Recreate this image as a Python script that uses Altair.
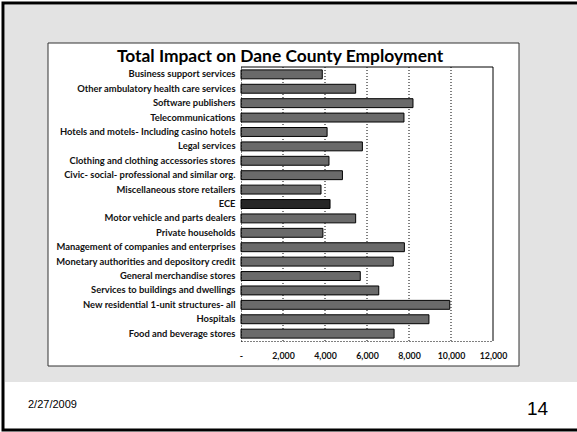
import altair as alt
import pandas as pd

categories = [
    "Business support services",
    "Other ambulatory health care services",
    "Software publishers",
    "Telecommunications",
    "Hotels and motels- Including casino hotels",
    "Legal services",
    "Clothing and clothing accessories stores",
    "Civic- social- professional and similar org.",
    "Miscellaneous store retailers",
    "ECE",
    "Motor vehicle and parts dealers",
    "Private households",
    "Management of companies and enterprises",
    "Monetary authorities and depository credit",
    "General merchandise stores",
    "Services to buildings and dwellings",
    "New residential 1-unit structures- all",
    "Hospitals",
    "Food and beverage stores",
]
values = [3870, 5460, 8190, 7760, 4100, 5780, 4190, 4830, 3810, 4240,
          5460, 3900, 7780, 7250, 5680, 6560, 9940, 8950, 7290]
x_ticks = [0, 2000, 4000, 6000, 8000, 10000, 12000]
title_text = "Total Impact on Dane County Employment"
date_text = "2/27/2009"
page_text = "14"

df = pd.DataFrame({"category": categories, "value": values})
grid_df = pd.DataFrame({"tick": x_ticks[1:-1]})

L, T = 241, 67
W, H = 252, 274

one = alt.Data(values=[{}])


def box(x0, y0, x1, y1, **kw):
    return alt.Chart(one).mark_rect(**kw).encode(
        x=alt.value(x0 - L), x2=alt.value(x1 - L),
        y=alt.value(y0 - T), y2=alt.value(y1 - T))


bg_gray = box(5, 5, 577, 382, fill="#e3e3e3")
chart_box = box(48, 43, 519, 366, fill="white", stroke="#333", strokeWidth=1)
frame = box(3, 3, 590, 430, fill=None, filled=False, stroke="black", strokeWidth=3)

xscale = alt.Scale(domain=[0, 12000], nice=False)

grid = alt.Chart(grid_df).mark_rule(color="black", strokeDash=[1, 2], strokeWidth=1).encode(
    x=alt.X("tick:Q", scale=xscale, title=None), y=alt.value(0), y2=alt.value(H))

bars = alt.Chart(df).mark_bar(stroke="black", strokeWidth=1).encode(
    y=alt.Y("category:N", sort=None, title=None,
            scale=alt.Scale(paddingInner=0.38, paddingOuter=0.2),
            axis=alt.Axis(ticks=False, domain=True, domainDash=[1, 2], domainColor="black",
                          labelFont="Lato", labelFontSize=9.4, labelFontWeight="bold",
                          labelColor="#111", labelPadding=6, labelLimit=300, zindex=1)),
    x=alt.X("value:Q", title=None, scale=xscale,
            axis=alt.Axis(values=x_ticks, ticks=False, grid=False, domain=True, domainDash=[1, 2],
                          domainColor="black", labelOverlap=False, labelFlush=False,
                          labelExpr="datum.value == 0 ? '-' : format(datum.value, ',')",
                          labelFont="Lato", labelFontSize=8.8, labelFontWeight="bold",
                          labelColor="#111", labelPadding=10, zindex=1)),
    fill=alt.condition(alt.datum.category == "ECE", alt.value("#262626"), alt.value("#6a6a6a")),
)

top_rule = alt.Chart(one).mark_rule(color="black", strokeWidth=1).encode(
    x=alt.value(0), x2=alt.value(W), y=alt.value(0))
right_rule = alt.Chart(one).mark_rule(color="black", strokeWidth=1).encode(
    x=alt.value(W), y=alt.value(0), y2=alt.value(H))

title = alt.Chart(one).mark_text(font="Lato", fontSize=17.4, fontWeight="bold",
                                 color="black", align="center", baseline="alphabetic").encode(
    x=alt.value(280 - L), y=alt.value(62 - T), text=alt.value(title_text))
date = alt.Chart(one).mark_text(font="Liberation Sans", fontSize=11, color="black",
                                align="left", baseline="alphabetic").encode(
    x=alt.value(28 - L), y=alt.value(408 - T), text=alt.value(date_text))
page = alt.Chart(one).mark_text(font="Liberation Sans", fontSize=19, color="black",
                                align="left", baseline="alphabetic").encode(
    x=alt.value(527 - L), y=alt.value(415 - T), text=alt.value(page_text))

chart = alt.layer(bg_gray, chart_box, frame, grid, bars, top_rule, right_rule, title, date, page).properties(
    width=W, height=H,
    padding={"left": L, "top": T, "right": 577 - L - W, "bottom": 432 - T - H},
    autosize=alt.AutoSizeParams(type="none"),
    background="white",
).configure_view(stroke=None)

chart.save("out.html", embed_options={"renderer": "svg", "actions": False})
